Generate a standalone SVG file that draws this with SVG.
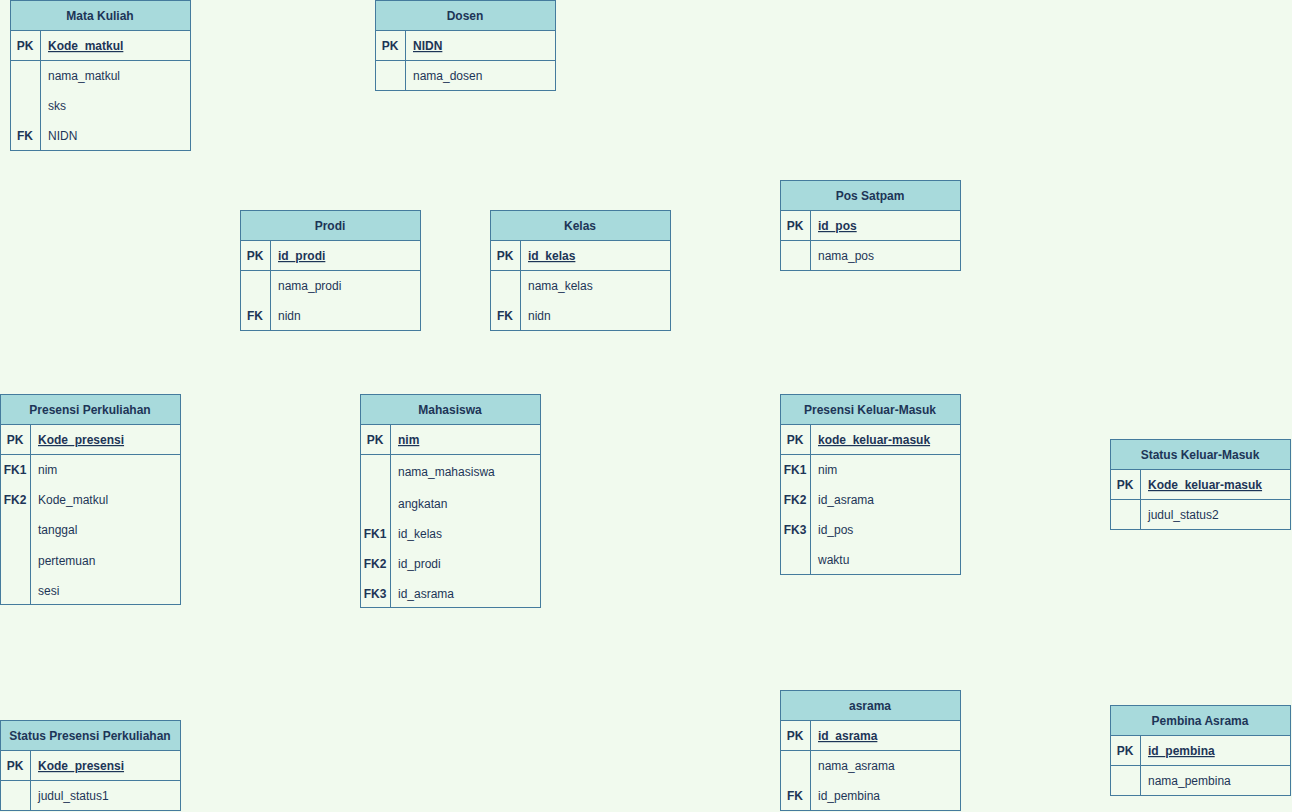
<svg xmlns="http://www.w3.org/2000/svg" width="1292" height="812" viewBox="0 0 1292 812">
<style>
.bg{fill:#F1FAEE}
.box{fill:#F1FAEE;stroke:#457B9D;stroke-width:1}
.hd{fill:#A8DADC;stroke:#457B9D;stroke-width:1}
.ln{stroke:#457B9D;stroke-width:1;fill:none}
text{font-family:"Liberation Sans",Arial,sans-serif;font-size:12px;fill:#1D3557}
.t{text-anchor:middle;font-weight:bold}
.k{text-anchor:middle;font-weight:bold}
.pk{text-decoration:underline;font-weight:bold}
</style>
<rect x="0" y="0" width="1292" height="812" class="bg"/>
<g id="connectors"></g>

<g id="mata-kuliah">
<rect x="10.5" y="0.5" width="180" height="150" class="box"/>
<rect x="10.5" y="0.5" width="180" height="30" class="hd"/>
<line x1="10.5" y1="60.5" x2="190.5" y2="60.5" class="ln"/>
<line x1="40.5" y1="30.5" x2="40.5" y2="150.5" class="ln"/>
<text x="100" y="20" class="t">Mata Kuliah</text>
<text x="25" y="50" class="k">PK</text><text x="48" y="50" class="pk">Kode_matkul</text>
<text x="48" y="80">nama_matkul</text>
<text x="48" y="110">sks</text>
<text x="25" y="140" class="k">FK</text><text x="48" y="140">NIDN</text>
</g>

<g id="dosen">
<rect x="375.5" y="0.5" width="180" height="90" class="box"/>
<rect x="375.5" y="0.5" width="180" height="30" class="hd"/>
<line x1="375.5" y1="60.5" x2="555.5" y2="60.5" class="ln"/>
<line x1="405.5" y1="30.5" x2="405.5" y2="90.5" class="ln"/>
<text x="465" y="20" class="t">Dosen</text>
<text x="390" y="50" class="k">PK</text><text x="413" y="50" class="pk">NIDN</text>
<text x="413" y="80">nama_dosen</text>
</g>

<g id="prodi">
<rect x="240.5" y="210.5" width="180" height="120" class="box"/>
<rect x="240.5" y="210.5" width="180" height="30" class="hd"/>
<line x1="240.5" y1="270.5" x2="420.5" y2="270.5" class="ln"/>
<line x1="270.5" y1="240.5" x2="270.5" y2="330.5" class="ln"/>
<text x="330" y="230" class="t">Prodi</text>
<text x="255" y="260" class="k">PK</text><text x="278" y="260" class="pk">id_prodi</text>
<text x="278" y="290">nama_prodi</text>
<text x="255" y="320" class="k">FK</text><text x="278" y="320">nidn</text>
</g>

<g id="kelas">
<rect x="490.5" y="210.5" width="180" height="120" class="box"/>
<rect x="490.5" y="210.5" width="180" height="30" class="hd"/>
<line x1="490.5" y1="270.5" x2="670.5" y2="270.5" class="ln"/>
<line x1="520.5" y1="240.5" x2="520.5" y2="330.5" class="ln"/>
<text x="580" y="230" class="t">Kelas</text>
<text x="505" y="260" class="k">PK</text><text x="528" y="260" class="pk">id_kelas</text>
<text x="528" y="290">nama_kelas</text>
<text x="505" y="320" class="k">FK</text><text x="528" y="320">nidn</text>
</g>

<g id="pos-satpam">
<rect x="780.5" y="180.5" width="180" height="90" class="box"/>
<rect x="780.5" y="180.5" width="180" height="30" class="hd"/>
<line x1="780.5" y1="240.5" x2="960.5" y2="240.5" class="ln"/>
<line x1="810.5" y1="210.5" x2="810.5" y2="270.5" class="ln"/>
<text x="870" y="200" class="t">Pos Satpam</text>
<text x="795" y="230" class="k">PK</text><text x="818" y="230" class="pk">id_pos</text>
<text x="818" y="260">nama_pos</text>
</g>

<g id="presensi-perkuliahan">
<rect x="0.5" y="394.5" width="180" height="210" class="box"/>
<rect x="0.5" y="394.5" width="180" height="30" class="hd"/>
<line x1="0.5" y1="454.5" x2="180.5" y2="454.5" class="ln"/>
<line x1="30.5" y1="424.5" x2="30.5" y2="604.5" class="ln"/>
<text x="90" y="414" class="t">Presensi Perkuliahan</text>
<text x="15" y="444" class="k">PK</text><text x="38" y="444" class="pk">Kode_presensi</text>
<text x="15" y="474" class="k">FK1</text><text x="38" y="474">nim</text>
<text x="15" y="504" class="k">FK2</text><text x="38" y="504">Kode_matkul</text>
<text x="38" y="534">tanggal</text>
<text x="38" y="565">pertemuan</text>
<text x="38" y="595">sesi</text>
</g>

<g id="mahasiswa">
<rect x="360.5" y="394.5" width="180" height="213" class="box"/>
<rect x="360.5" y="394.5" width="180" height="30" class="hd"/>
<line x1="360.5" y1="454.5" x2="540.5" y2="454.5" class="ln"/>
<line x1="390.5" y1="424.5" x2="390.5" y2="607.5" class="ln"/>
<text x="450" y="414" class="t">Mahasiswa</text>
<text x="375" y="444" class="k">PK</text><text x="398" y="444" class="pk">nim</text>
<text x="398" y="476">nama_mahasiswa</text>
<text x="398" y="508">angkatan</text>
<text x="375" y="538" class="k">FK1</text><text x="398" y="538">id_kelas</text>
<text x="375" y="568" class="k">FK2</text><text x="398" y="568">id_prodi</text>
<text x="375" y="598" class="k">FK3</text><text x="398" y="598">id_asrama</text>
</g>

<g id="presensi-keluar-masuk">
<rect x="780.5" y="394.5" width="180" height="180" class="box"/>
<rect x="780.5" y="394.5" width="180" height="30" class="hd"/>
<line x1="780.5" y1="454.5" x2="960.5" y2="454.5" class="ln"/>
<line x1="810.5" y1="424.5" x2="810.5" y2="574.5" class="ln"/>
<text x="870" y="414" class="t">Presensi Keluar-Masuk</text>
<text x="795" y="444" class="k">PK</text><text x="818" y="444" class="pk">kode_keluar-masuk</text>
<text x="795" y="474" class="k">FK1</text><text x="818" y="474">nim</text>
<text x="795" y="504" class="k">FK2</text><text x="818" y="504">id_asrama</text>
<text x="795" y="534" class="k">FK3</text><text x="818" y="534">id_pos</text>
<text x="818" y="564">waktu</text>
</g>

<g id="status-keluar-masuk">
<rect x="1110.5" y="439.5" width="180" height="90" class="box"/>
<rect x="1110.5" y="439.5" width="180" height="30" class="hd"/>
<line x1="1110.5" y1="499.5" x2="1290.5" y2="499.5" class="ln"/>
<line x1="1140.5" y1="469.5" x2="1140.5" y2="529.5" class="ln"/>
<text x="1200" y="459" class="t">Status Keluar-Masuk</text>
<text x="1125" y="489" class="k">PK</text><text x="1148" y="489" class="pk">Kode_keluar-masuk</text>
<text x="1148" y="519">judul_status2</text>
</g>

<g id="status-presensi-perkuliahan">
<rect x="0.5" y="720.5" width="180" height="90" class="box"/>
<rect x="0.5" y="720.5" width="180" height="30" class="hd"/>
<line x1="0.5" y1="780.5" x2="180.5" y2="780.5" class="ln"/>
<line x1="30.5" y1="750.5" x2="30.5" y2="810.5" class="ln"/>
<text x="90" y="740" class="t">Status Presensi Perkuliahan</text>
<text x="15" y="770" class="k">PK</text><text x="38" y="770" class="pk">Kode_presensi</text>
<text x="38" y="800">judul_status1</text>
</g>

<g id="asrama">
<rect x="780.5" y="690.5" width="180" height="120" class="box"/>
<rect x="780.5" y="690.5" width="180" height="30" class="hd"/>
<line x1="780.5" y1="750.5" x2="960.5" y2="750.5" class="ln"/>
<line x1="810.5" y1="720.5" x2="810.5" y2="810.5" class="ln"/>
<text x="870" y="710" class="t">asrama</text>
<text x="795" y="740" class="k">PK</text><text x="818" y="740" class="pk">id_asrama</text>
<text x="818" y="770">nama_asrama</text>
<text x="795" y="800" class="k">FK</text><text x="818" y="800">id_pembina</text>
</g>

<g id="pembina-asrama">
<rect x="1110.5" y="705.5" width="180" height="90" class="box"/>
<rect x="1110.5" y="705.5" width="180" height="30" class="hd"/>
<line x1="1110.5" y1="765.5" x2="1290.5" y2="765.5" class="ln"/>
<line x1="1140.5" y1="735.5" x2="1140.5" y2="795.5" class="ln"/>
<text x="1200" y="725" class="t">Pembina Asrama</text>
<text x="1125" y="755" class="k">PK</text><text x="1148" y="755" class="pk">id_pembina</text>
<text x="1148" y="785">nama_pembina</text>
</g>
</svg>
